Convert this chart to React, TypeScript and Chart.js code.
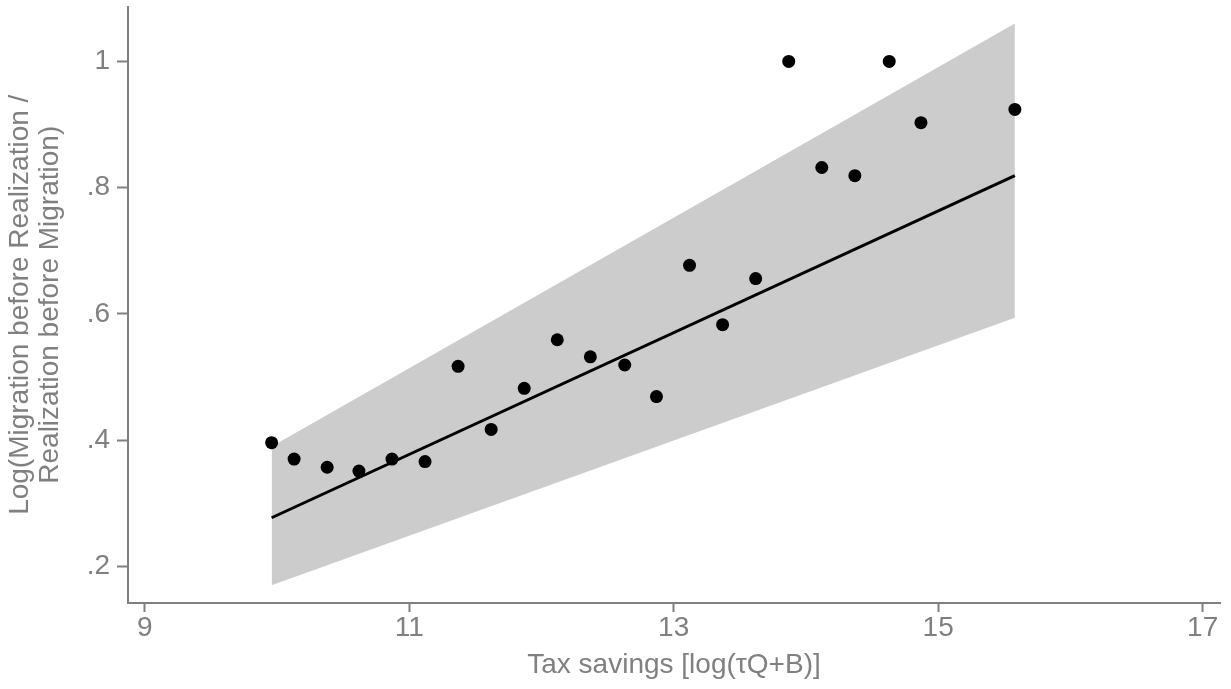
import React, { useEffect, useRef } from "react";
import { Chart, registerables } from "chart.js";

Chart.register(...registerables);

const xValues = [9.96, 10.13, 10.38, 10.62, 10.87, 11.12, 11.37, 11.62, 11.87, 12.12, 12.37, 12.63, 12.87, 13.12, 13.37, 13.62, 13.87, 14.12, 14.37, 14.63, 14.87, 15.58];
const yValues = [0.396, 0.370, 0.357, 0.351, 0.370, 0.366, 0.517, 0.417, 0.482, 0.559, 0.532, 0.519, 0.469, 0.677, 0.583, 0.656, 1.0, 0.832, 0.819, 1.0, 0.903, 0.924];
const fitX = [9.96, 15.58];
const fitY = [0.277, 0.819];
const bandUpper = [0.390, 1.060];
const bandLower = [0.170, 0.594];
const xTicks = [9, 11, 13, 15, 17];
const yTicks = [0.2, 0.4, 0.6, 0.8, 1];
const yTickLabels = [".2", ".4", ".6", ".8", "1"];
const xTitle = "Tax savings [log(\u03C4Q+B)]";
const yTitle = ["Log(Migration before Realization /", "Realization before Migration)"];

const GRAY = "#808080";
const FONT = "'Liberation Sans', Arial, Helvetica, sans-serif";

export default function App() {
  const ref = useRef<HTMLCanvasElement | null>(null);

  useEffect(() => {
    if (!ref.current) return;
    const pts = xValues.map((x, i) => ({ x, y: yValues[i] }));
    const fit = fitX.map((x, i) => ({ x, y: fitY[i] }));
    const up = fitX.map((x, i) => ({ x, y: bandUpper[i] }));
    const lo = fitX.map((x, i) => ({ x, y: bandLower[i] }));

    const chart = new Chart(ref.current, {
      type: "scatter",
      data: {
        datasets: [
          {
            type: "scatter",
            data: pts,
            pointRadius: 6.5,
            pointBackgroundColor: "#000",
            pointBorderWidth: 0,
            backgroundColor: "#000",
          } as any,
          {
            type: "line",
            data: fit,
            borderColor: "#000",
            borderWidth: 3,
            pointRadius: 0,
            fill: false,
          } as any,
          {
            type: "line",
            data: up,
            borderWidth: 0,
            borderColor: "rgba(0,0,0,0)",
            pointRadius: 0,
            fill: false,
          } as any,
          {
            type: "line",
            data: lo,
            borderWidth: 0,
            borderColor: "rgba(0,0,0,0)",
            pointRadius: 0,
            fill: "-1",
            backgroundColor: "#cccccc",
          } as any,
        ],
      },
      options: {
        animation: false,
        responsive: false,
        maintainAspectRatio: false,
        devicePixelRatio: 1,
        layout: { padding: { left: 0, right: 11, top: 6, bottom: 0 } },
        plugins: {
          legend: { display: false },
          tooltip: { enabled: false },
        },
        scales: {
          x: {
            type: "linear",
            min: 8.874,
            max: 17.131,
            afterBuildTicks: (s: any) => {
              s.ticks = xTicks.map((v) => ({ value: v }));
            },
            afterFit: (s: any) => {
              s.height = 86;
              s.paddingLeft = 0;
              s.paddingRight = 0;
            },
            grid: {
              drawOnChartArea: false,
              drawTicks: true,
              tickLength: 9,
              tickColor: GRAY,
              tickWidth: 2,
            },
            border: { display: true, color: GRAY, width: 2 },
            ticks: {
              color: GRAY,
              font: { family: FONT, size: 28, lineHeight: 1 },
              padding: 2,
              maxRotation: 0,
              autoSkip: false,
              callback: (v: any) => String(v),
            },
            title: {
              display: true,
              text: xTitle,
              color: GRAY,
              font: { family: FONT, size: 28, lineHeight: 1 },
              padding: { top: 0, bottom: 10 },
            },
          },
          y: {
            type: "linear",
            min: 0.1419,
            max: 1.0871,
            afterBuildTicks: (s: any) => {
              s.ticks = yTicks.map((v) => ({ value: v }));
            },
            afterFit: (s: any) => {
              s.width = 128;
              s.paddingTop = 0;
              s.paddingBottom = 0;
            },
            grid: {
              drawOnChartArea: false,
              drawTicks: true,
              tickLength: 11,
              tickColor: GRAY,
              tickWidth: 2,
            },
            border: { display: true, color: GRAY, width: 2 },
            ticks: {
              color: GRAY,
              font: { family: FONT, size: 28, lineHeight: 1 },
              padding: 7,
              autoSkip: false,
              callback: (v: any) => {
                const i = yTicks.findIndex((t) => Math.abs(t - v) < 1e-9);
                return i >= 0 ? yTickLabels[i] : "";
              },
            },
            title: {
              display: true,
              text: yTitle,
              color: GRAY,
              font: { family: FONT, size: 28, lineHeight: 1.08 },
              padding: { top: 5, bottom: 0 },
            },
          },
        },
      } as any,
    });
    return () => chart.destroy();
  }, []);

  return (
    <div style={{ position: "fixed", left: 0, top: 0, width: 1231, height: 689, background: "#fff" }}>
      <canvas ref={ref} width={1231} height={689} style={{ display: "block", width: 1231, height: 689 }} />
    </div>
  );
}
